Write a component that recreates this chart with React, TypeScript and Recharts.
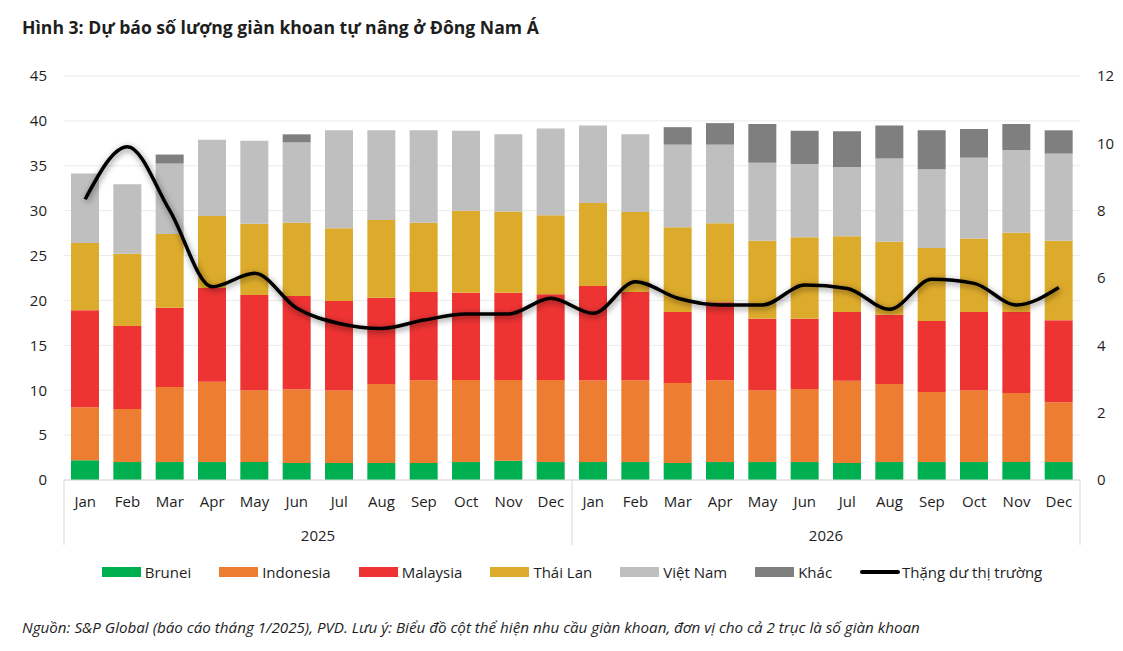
import React from 'react';
import { ComposedChart, Bar, Line, XAxis, YAxis, CartesianGrid } from 'recharts';

// Tháng trên trục hoành (2 năm, 24 cột)
const months = [
  'Jan', 'Feb', 'Mar', 'Apr', 'May', 'Jun', 'Jul', 'Aug', 'Sep', 'Oct', 'Nov', 'Dec',
  'Jan', 'Feb', 'Mar', 'Apr', 'May', 'Jun', 'Jul', 'Aug', 'Sep', 'Oct', 'Nov', 'Dec',
];
const years = ['2025', '2026'];

// Nhu cầu giàn khoan theo quốc gia
const brunei = [2.2, 2.0, 2.0, 2.0, 2.0, 1.9, 1.9, 1.9, 1.9, 2.0, 2.15, 2.0, 2.0, 2.0, 1.9, 2.0, 2.0, 2.0, 1.9, 2.0, 2.0, 2.0, 2.0, 2.0];
const indonesia = [5.9, 5.9, 8.35, 8.95, 8.0, 8.2, 8.1, 8.8, 9.2, 9.15, 9.0, 9.15, 9.1, 9.1, 8.9, 9.1, 8.0, 8.15, 9.15, 8.7, 7.8, 8.0, 7.7, 6.65];
const malaysia = [10.8, 9.25, 8.85, 10.45, 10.6, 10.4, 9.95, 9.6, 9.85, 9.7, 9.7, 9.55, 10.5, 9.85, 7.9, 8.7, 7.95, 7.8, 7.65, 7.7, 7.9, 8.7, 9.0, 9.15];
const thaiLan = [7.5, 8.05, 8.2, 8.0, 7.95, 8.15, 8.1, 8.65, 7.7, 9.15, 9.05, 8.8, 9.25, 8.9, 9.45, 8.8, 8.7, 9.1, 8.45, 8.15, 8.15, 8.2, 8.85, 8.85];
const vietNam = [7.75, 7.75, 7.85, 8.5, 9.25, 8.95, 10.9, 10.0, 10.3, 8.9, 8.6, 9.65, 8.65, 8.65, 9.2, 8.75, 8.7, 8.15, 7.7, 9.25, 8.75, 9.0, 9.2, 9.7];
const khac = [0, 0, 1.0, 0, 0, 0.9, 0, 0, 0, 0, 0, 0, 0, 0, 1.95, 2.4, 4.3, 3.7, 4.0, 3.7, 4.35, 3.2, 2.9, 2.6];

// Thặng dư thị trường (trục phải)
const surplus = [8.34, 9.9, 8.0, 5.74, 6.14, 5.1, 4.65, 4.5, 4.75, 4.93, 4.93, 5.4, 4.95, 5.89, 5.4, 5.2, 5.2, 5.79, 5.69, 5.07, 5.96, 5.84, 5.2, 5.72];

const leftTicks = [0, 5, 10, 15, 20, 25, 30, 35, 40, 45];
const rightTicks = [0, 2, 4, 6, 8, 10, 12];

const series = [
  { key: 'brunei', name: 'Brunei', color: '#00B050' },
  { key: 'indonesia', name: 'Indonesia', color: '#ED7D31' },
  { key: 'malaysia', name: 'Malaysia', color: '#EE3333' },
  { key: 'thaiLan', name: 'Thái Lan', color: '#DDAB2B' },
  { key: 'vietNam', name: 'Việt Nam', color: '#BFBFBF' },
  { key: 'khac', name: 'Khác', color: '#7F7F7F' },
];

const data = months.map((month, i) => ({
  month,
  brunei: brunei[i],
  indonesia: indonesia[i],
  malaysia: malaysia[i],
  thaiLan: thaiLan[i],
  vietNam: vietNam[i],
  khac: khac[i],
  surplus: surplus[i],
}));

const textColor = '#1E1E1E';
const lineColor = '#D9D9D9';
const perYear = 12;

// nhãn tháng + nhãn năm + vạch phân cách năm (trục 2 cấp như Excel)
function MonthTick(props: any) {
  const { x, y, payload } = props;
  const index = props.index ?? payload.index;
  const half = payload.offset || 0;
  const inYear = index % perYear;
  return (
    <g>
      <text x={x} y={y + 27} textAnchor="middle" fill={textColor} fontSize={15}>
        {payload.value}
      </text>
      {inYear === 0 && (
        <line x1={x - half} x2={x - half} y1={y} y2={y + 65} stroke={lineColor} />
      )}
      {index === months.length - 1 && (
        <line x1={x + half} x2={x + half} y1={y} y2={y + 65} stroke={lineColor} />
      )}
      {inYear === perYear / 2 - 1 && (
        <text x={x + half} y={y + 61} textAnchor="middle" fill={textColor} fontSize={15}>
          {years[Math.floor(index / perYear)]}
        </text>
      )}
    </g>
  );
}

function LegendRow() {
  return (
    <div
      style={{
        position: 'absolute',
        left: 64,
        width: 1016,
        top: 562,
        height: 20,
        display: 'flex',
        justifyContent: 'center',
        alignItems: 'center',
        gap: 28,
        fontSize: 15,
        color: textColor,
      }}
    >
      {series.map((s) => (
        <div key={s.key} style={{ display: 'flex', alignItems: 'center' }}>
          <span style={{ width: 39, height: 10, background: s.color, marginRight: 4 }} />
          <span>{s.name}</span>
        </div>
      ))}
      <div style={{ display: 'flex', alignItems: 'center' }}>
        <span style={{ width: 40, height: 4, background: '#000', borderRadius: 2, marginRight: 2 }} />
        <span>Thặng dư thị trường</span>
      </div>
    </div>
  );
}

export default function App() {
  return (
    <div
      style={{
        position: 'absolute',
        left: 0,
        top: 0,
        width: 1123,
        height: 651,
        background: '#fff',
        fontFamily: '"Open Sans", sans-serif',
        color: textColor,
      }}
    >
      <div style={{ position: 'absolute', left: 22, top: 15, fontSize: 17.6, fontWeight: 700, lineHeight: '24px' }}>
        Hình 3: Dự báo số lượng giàn khoan tự nâng ở Đông Nam Á
      </div>

      <ComposedChart
        width={1123}
        height={560}
        data={data}
        margin={{ top: 76, right: 0, bottom: 0, left: 0 }}
      >
        <defs>
          <filter id="lineShadow" x="-10%" y="-30%" width="120%" height="160%">
            <feDropShadow dx="1" dy="2" stdDeviation="3" floodColor="#000" floodOpacity="0.5" />
          </filter>
        </defs>
        <CartesianGrid vertical={false} yAxisId="left" stroke="#EBEBEB" />
        <XAxis
          dataKey="month"
          height={80}
          interval={0}
          tickLine={false}
          tickSize={0}
          tickMargin={0}
          axisLine={{ stroke: lineColor }}
          tick={<MonthTick />}
        />
        <YAxis
          yAxisId="left"
          width={64}
          domain={[0, 45]}
          ticks={leftTicks}
          tickLine={false}
          tickSize={0}
          tickMargin={17}
          axisLine={false}
          tick={{ fill: textColor, fontSize: 15 }}
        />
        <YAxis
          yAxisId="right"
          orientation="right"
          width={43}
          domain={[0, 12]}
          ticks={rightTicks}
          tickLine={false}
          tickSize={0}
          tickMargin={17}
          axisLine={false}
          tick={{ fill: textColor, fontSize: 15, textAnchor: 'start' }}
        />
        {series.map((s) => (
          <Bar
            key={s.key}
            dataKey={s.key}
            name={s.name}
            stackId="demand"
            yAxisId="left"
            fill={s.color}
            barSize={28}
            isAnimationActive={false}
          />
        ))}
        <Line
          dataKey="surplus"
          name="Thặng dư thị trường"
          yAxisId="right"
          type="monotone"
          stroke="#000"
          strokeWidth={3.5}
          dot={false}
          filter="url(#lineShadow)"
          isAnimationActive={false}
        />
      </ComposedChart>

      <LegendRow />

      <div
        style={{
          position: 'absolute',
          left: 22,
          top: 616,
          fontSize: 15.2,
          fontStyle: 'italic',
          lineHeight: '22px',
        }}
      >
        Nguồn: S&amp;P Global (báo cáo tháng 1/2025), PVD. Lưu ý: Biểu đồ cột thể hiện nhu cầu giàn khoan, đơn vị cho cả 2
        trục là số giàn khoan
      </div>
    </div>
  );
}
